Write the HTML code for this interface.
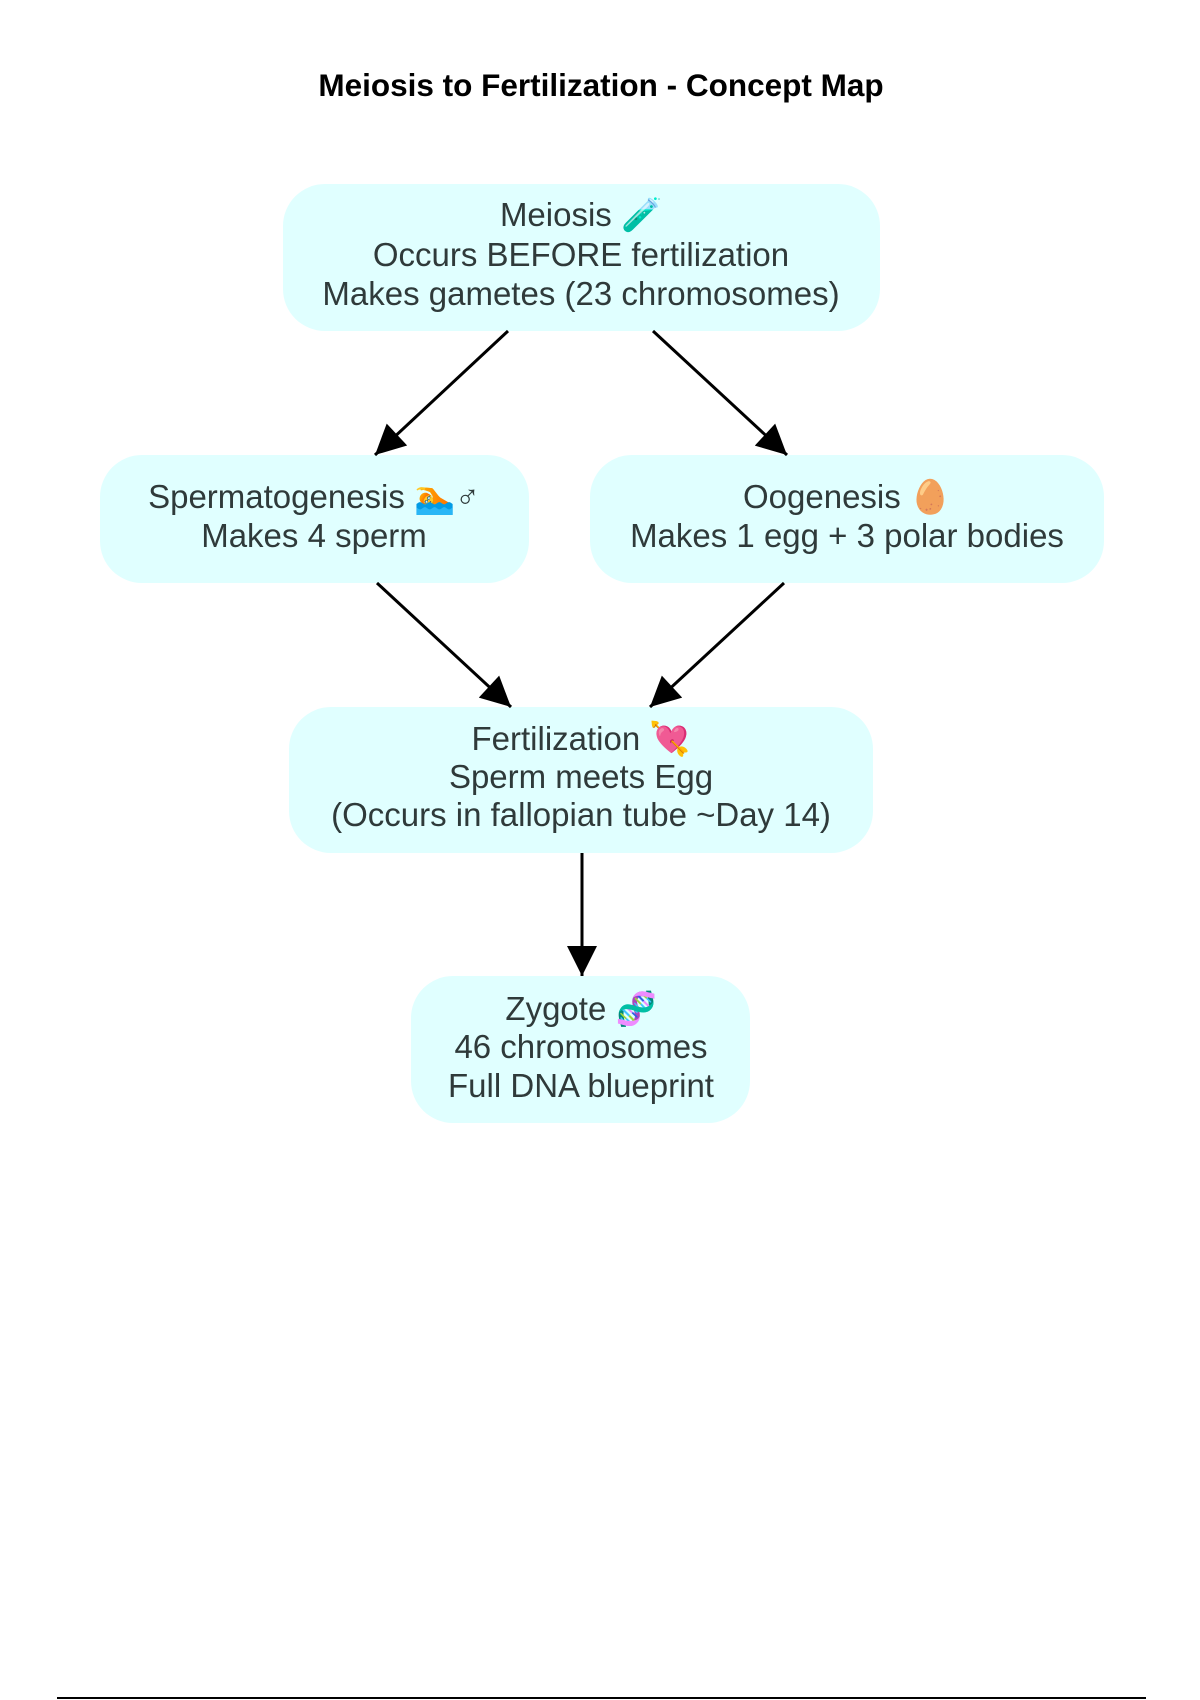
<!DOCTYPE html>
<html><head><meta charset="utf-8"><style>
html,body{margin:0;padding:0;background:#fff;}
svg{display:block}
text{font-family:"Liberation Sans","DejaVu Sans",sans-serif;}
.n{font-size:33px;fill:#2f3a3a;text-anchor:middle;}
</style></head><body>
<svg width="1200" height="1700" viewBox="0 0 1200 1700" xmlns="http://www.w3.org/2000/svg">
<defs>
<marker id="ah" viewBox="0 0 10 10" refX="10" refY="5" markerWidth="36" markerHeight="30" orient="auto" markerUnits="userSpaceOnUse"><path d="M0,0 L10,5 L0,10 z" fill="#000"/></marker></defs>
<text x="601" y="96" text-anchor="middle" font-size="31.5" font-weight="bold" fill="#000">Meiosis to Fertilization - Concept Map</text>

<rect x="283" y="184" width="597" height="147" rx="42" fill="#e0ffff"/>
<text class="n" x="581" y="226">Meiosis 🧪</text>
<text class="n" x="581" y="266">Occurs BEFORE fertilization</text>
<text class="n" x="581" y="305">Makes gametes (23 chromosomes)</text>

<rect x="100" y="455" width="429" height="128" rx="42" fill="#e0ffff"/>
<text class="n" x="314" y="508">Spermatogenesis 🏊♂</text>
<text class="n" x="314" y="547">Makes 4 sperm</text>

<rect x="590" y="455" width="514" height="128" rx="42" fill="#e0ffff"/>
<text class="n" x="847" y="508">Oogenesis 🥚</text>
<text class="n" x="847" y="547">Makes 1 egg + 3 polar bodies</text>

<rect x="289" y="707" width="584" height="146" rx="42" fill="#e0ffff"/>
<text class="n" x="581" y="750">Fertilization 💘</text>
<text class="n" x="581" y="788">Sperm meets Egg</text>
<text class="n" x="581" y="826">(Occurs in fallopian tube ~Day 14)</text>

<rect x="411" y="976" width="339" height="147" rx="42" fill="#e0ffff"/>
<text class="n" x="581" y="1020">Zygote 🧬</text>
<text class="n" x="581" y="1058">46 chromosomes</text>
<text class="n" x="581" y="1097">Full DNA blueprint</text>

<g stroke="#000" stroke-width="3" fill="none">
<line x1="508" y1="331" x2="375" y2="455" marker-end="url(#ah)"/>
<line x1="653" y1="331" x2="787" y2="455" marker-end="url(#ah)"/>
<line x1="377" y1="583" x2="511" y2="707" marker-end="url(#ah)"/>
<line x1="784" y1="583" x2="650" y2="707" marker-end="url(#ah)"/>
<line x1="582" y1="853" x2="582" y2="976" marker-end="url(#ah)"/>
</g>
<line x1="57" y1="1698" x2="1146" y2="1698" stroke="#000" stroke-width="2"/>
</svg>
</body></html>
